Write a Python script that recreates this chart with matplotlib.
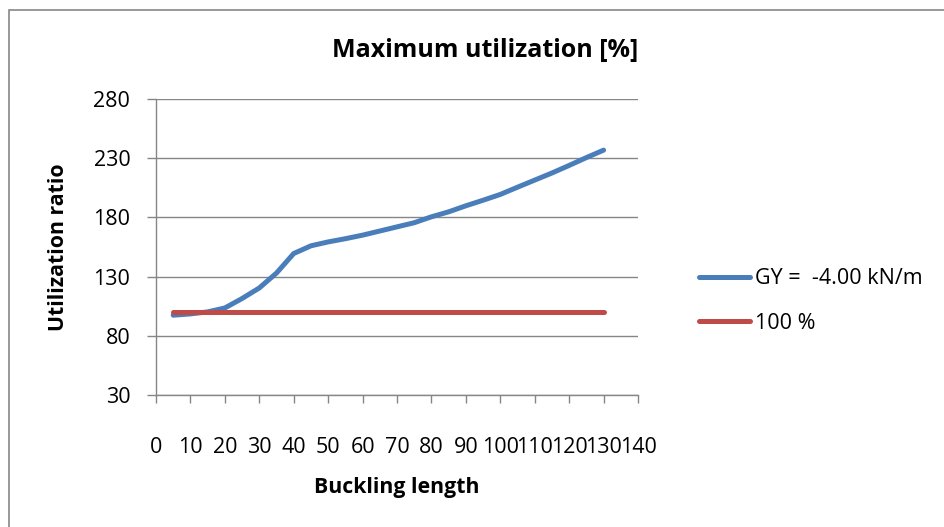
import matplotlib
matplotlib.use("Agg")
import matplotlib.pyplot as plt
from matplotlib.patches import Rectangle

# Buckling length vs. utilization ratio
buckling_length = [5, 10, 15, 20, 25, 30, 35, 40, 45, 50, 55, 60, 65,
                   70, 75, 80, 85, 90, 95, 100, 105, 110, 115, 120, 125, 130]
utilization_gy = [97.4, 98.5, 100.2, 103.5, 111.5, 120.4, 133.0, 149.5, 156.0,
                  159.3, 162.0, 165.0, 168.5, 172.0, 175.5, 180.5, 184.7, 189.8,
                  194.5, 199.4, 205.5, 211.5, 217.5, 223.9, 230.5, 236.8]
limit_100 = [100] * len(buckling_length)

series_labels = ["GY =  -4.00 kN/m", "100 %"]
x_ticks = list(range(0, 141, 10))
y_ticks = [30, 80, 130, 180, 230, 280]

plt.rcParams['font.family'] = ['Open Sans', 'DejaVu Sans']

W, H = 945, 527
fig = plt.figure(figsize=(W / 100, H / 100), dpi=100)
fig.patch.set_facecolor("white")

# outer chart frame
fig.add_artist(Rectangle((9 / W, -0.2), 1.5, 1.2 - 9.5 / H,
                         transform=fig.transFigure, fill=False,
                         edgecolor="#868686", lw=1.2))

ax = fig.add_axes([156 / W, 1 - 395 / H, (638 - 156) / W, (395 - 99) / H])

grid_c = "#868686"
l1, = ax.plot(buckling_length, utilization_gy, color="#4A7EBB", lw=3.6,
              solid_capstyle="round", solid_joinstyle="round", zorder=3)
l2, = ax.plot(buckling_length, limit_100, color="#BE4B48", lw=3.6,
              solid_capstyle="round", zorder=4)

ax.set_xlim(0, 140)
ax.set_ylim(30, 280)
ax.set_xticks(x_ticks)
ax.set_yticks(y_ticks)
ax.yaxis.grid(True, color=grid_c, lw=1.0)
ax.set_axisbelow(True)

for s in ["top", "right"]:
    ax.spines[s].set_visible(False)
for s in ["left", "bottom"]:
    ax.spines[s].set_color(grid_c)
    ax.spines[s].set_linewidth(1.0)

ax.tick_params(axis="x", direction="out", length=6, width=1.0, color=grid_c,
               pad=24, labelsize=15.5)
ax.tick_params(axis="y", direction="out", length=6.5, width=1.0, color=grid_c,
               pad=12, labelsize=15.5)

fig.text(485 / W, 1 - 50 / H, "Maximum utilization [%]", ha="center",
         va="center", fontsize=18, fontweight="bold")
fig.text(59 / W, 1 - 247 / H, "Utilization ratio", ha="center", va="center",
         rotation=90, fontsize=15.3, fontweight="bold")
fig.text(397 / W, 1 - 488 / H, "Buckling length", ha="center", va="center",
         fontsize=15.3, fontweight="bold")

fig.legend([l1, l2], series_labels, loc="center left",
           bbox_to_anchor=(690 / W, 1 - 301 / H), frameon=False,
           fontsize=15.5, handlelength=2.4, handletextpad=0.2,
           labelspacing=1.1, borderaxespad=0)

fig.savefig("out.png", dpi=100, facecolor="white")
